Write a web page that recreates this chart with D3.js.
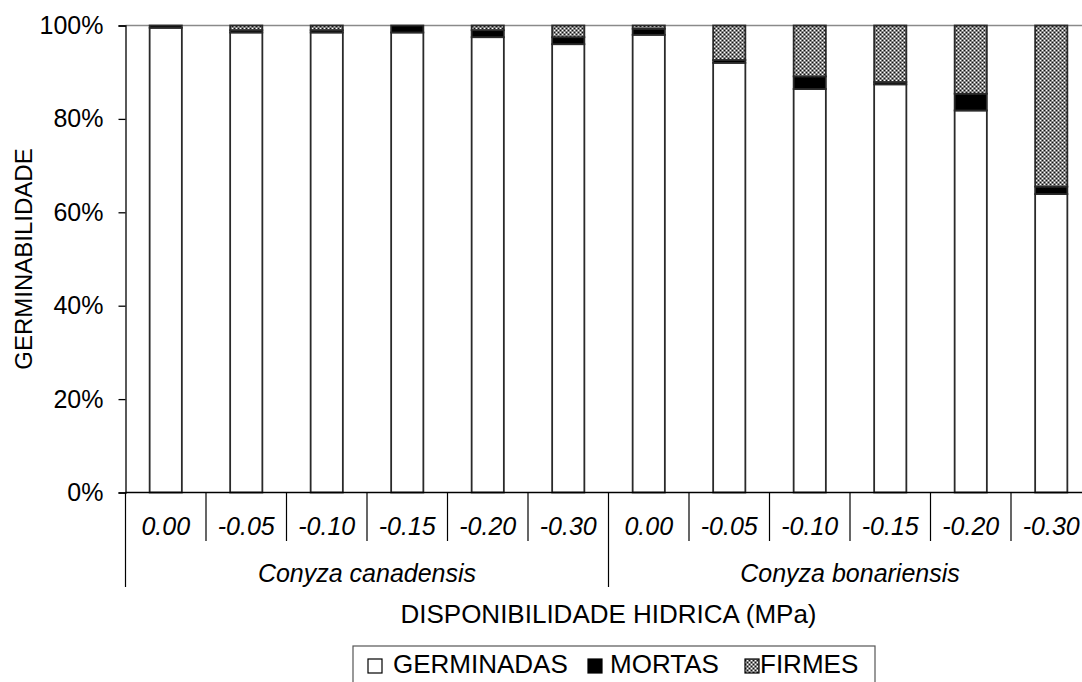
<!DOCTYPE html>
<html>
<head>
<meta charset="utf-8">
<script src="https://cdn.jsdelivr.net/npm/d3@7"></script>
<style>
    body { margin: 0; background: #fff; }
    svg { display: block; font-family: 'Liberation Sans', Arial, sans-serif; }
</style>
</head>
<body>
<svg id="chart" width="1082" height="682"></svg>
<script>
// potenciais hídricos (MPa) por espécie
const potenciais = ['0.00', '-0.05', '-0.10', '-0.15', '-0.20', '-0.30']
const especies = ['Conyza canadensis', 'Conyza bonariensis']
// percentuais (canadensis x6, bonariensis x6)
const germinadas = [99.5, 98.5, 98.5, 98.5, 97.5, 96.0, 98.0, 92.0, 86.4, 87.4, 81.8, 63.9]
const mortas = [0.5, 0.5, 0.5, 1.5, 1.5, 1.5, 1.3, 0.6, 2.7, 0.5, 3.6, 1.6]
const firmes = [0.0, 1.0, 1.0, 0.0, 1.0, 2.5, 0.7, 7.4, 10.9, 12.1, 14.6, 34.5]
const series = ['GERMINADAS', 'MORTAS', 'FIRMES']
const yTicks = [0, 20, 40, 60, 80, 100]

const svg = d3.select('#chart')
const margin = { left: 125.5, top: 25.5, bottom: 492.5 }
const plotRight = margin.left + 12 * 80.5

// linhas de dados para o d3.stack
const rows = germinadas.map((g, i) => ({
    key: especies[Math.floor(i / 6)] + '|' + potenciais[i % 6],
    GERMINADAS: g,
    MORTAS: mortas[i],
    FIRMES: firmes[i]
}))

const x = d3.scaleBand().domain(rows.map((d) => d.key)).range([margin.left, plotRight]).paddingInner(0.6).paddingOuter(0.3)
const y = d3.scaleLinear().domain([0, 100]).range([margin.bottom, margin.top])
const step = x.step()

// padrão quadriculado dos FIRMES
const defs = svg.append('defs')
const pat = defs.append('pattern').attr('id', 'firmes').attr('patternUnits', 'userSpaceOnUse').attr('width', 4).attr('height', 4)
pat.append('rect').attr('width', 4).attr('height', 4).attr('fill', '#858585')
pat.append('rect').attr('x', 0).attr('y', 0).attr('width', 1).attr('height', 1).attr('fill', '#fff')
pat.append('rect').attr('x', 2).attr('y', 2).attr('width', 1).attr('height', 1).attr('fill', '#fff')
pat.append('rect').attr('x', 2).attr('y', 0).attr('width', 1).attr('height', 1).attr('fill', '#111')
pat.append('rect').attr('x', 0).attr('y', 2).attr('width', 1).attr('height', 1).attr('fill', '#111')

const fills = { GERMINADAS: '#fff', MORTAS: '#000', FIRMES: 'url(#firmes)' }

// linha cinza do topo (100%)
svg.append('line')
    .attr('x1', margin.left).attr('x2', plotRight)
    .attr('y1', y(100)).attr('y2', y(100))
    .attr('stroke', '#8a8a8a').attr('stroke-width', 1.5)

// barras empilhadas
const stacked = d3.stack().keys(series)(rows)
svg.append('g')
    .selectAll('g')
    .data(stacked)
    .join('g')
    .attr('fill', (d) => fills[d.key])
    .selectAll('rect')
    .data((d) => d.filter((s) => s[1] - s[0] > 0))
    .join('rect')
    .attr('x', (d) => x(d.data.key))
    .attr('y', (d) => y(d[1]))
    .attr('width', x.bandwidth())
    .attr('height', (d) => y(d[0]) - y(d[1]))
    .attr('stroke', '#2a2a2a')
    .attr('stroke-width', 1.8)

// eixo Y
const yAxis = svg.append('g').attr('transform', `translate(${margin.left},0)`)
    .call(d3.axisLeft(y).tickValues(yTicks).tickSize(7).tickPadding(15).tickFormat((d) => d + '%'))
yAxis.select('.domain').attr('stroke', '#000').attr('stroke-width', 1.3)
yAxis.selectAll('.tick line').attr('stroke', '#000').attr('stroke-width', 1.3)
yAxis.selectAll('text').attr('font-size', 25).attr('font-family', 'Liberation Sans, Arial').attr('fill', '#000')

// eixo X (linha base)
svg.append('line')
    .attr('x1', margin.left).attr('x2', plotRight)
    .attr('y1', y(0)).attr('y2', y(0))
    .attr('stroke', '#000').attr('stroke-width', 1.3)

// separadores das categorias
const bounds = d3.range(13).map((i) => margin.left + i * step)
svg.append('g')
    .selectAll('line')
    .data(bounds)
    .join('line')
    .attr('x1', (d) => d).attr('x2', (d) => d)
    .attr('y1', y(0))
    .attr('y2', (d, i) => (i % 6 === 0 ? 587 : 541))
    .attr('stroke', '#000').attr('stroke-width', 1.2)

// rótulos dos potenciais
svg.append('g')
    .selectAll('text')
    .data(rows)
    .join('text')
    .attr('x', (d) => x(d.key) + x.bandwidth() / 2)
    .attr('y', 535)
    .attr('text-anchor', 'middle')
    .attr('font-size', 25)
    .attr('font-style', 'italic')
    .text((d) => d.key.split('|')[1])

// rótulos das espécies
svg.append('g')
    .selectAll('text')
    .data(especies)
    .join('text')
    .attr('x', (d, i) => margin.left + (i * 6 + 3) * step)
    .attr('y', 582)
    .attr('text-anchor', 'middle')
    .attr('font-size', 25)
    .attr('font-style', 'italic')
    .text((d) => d)

// títulos dos eixos
svg.append('text')
    .attr('x', (margin.left + plotRight) / 2)
    .attr('y', 623)
    .attr('text-anchor', 'middle')
    .attr('font-size', 26)
    .text('DISPONIBILIDADE HIDRICA (MPa)')

svg.append('text')
    .attr('transform', `translate(32,${(margin.top + margin.bottom) / 2}) rotate(-90)`)
    .attr('text-anchor', 'middle')
    .attr('font-size', 24)
    .text('GERMINABILIDADE')

// legenda
const legend = svg.append('g').attr('transform', 'translate(353,646)')
legend.append('rect')
    .attr('x', 0).attr('y', 0).attr('width', 522).attr('height', 50)
    .attr('fill', '#fff').attr('stroke', '#555').attr('stroke-width', 1.2)
const markerX = [15, 235, 392]
const textX = [40, 257, 407]
const item = legend.selectAll('g.item')
    .data(series)
    .join('g')
    .attr('class', 'item')
item.append('rect')
    .attr('x', (d, i) => markerX[i]).attr('y', 13)
    .attr('width', 14).attr('height', 14)
    .attr('fill', (d) => fills[d])
    .attr('stroke', '#000').attr('stroke-width', 1.2)
item.append('text')
    .attr('x', (d, i) => textX[i]).attr('y', 27)
    .attr('font-size', 26)
    .text((d) => d)
</script>
</body>
</html>
